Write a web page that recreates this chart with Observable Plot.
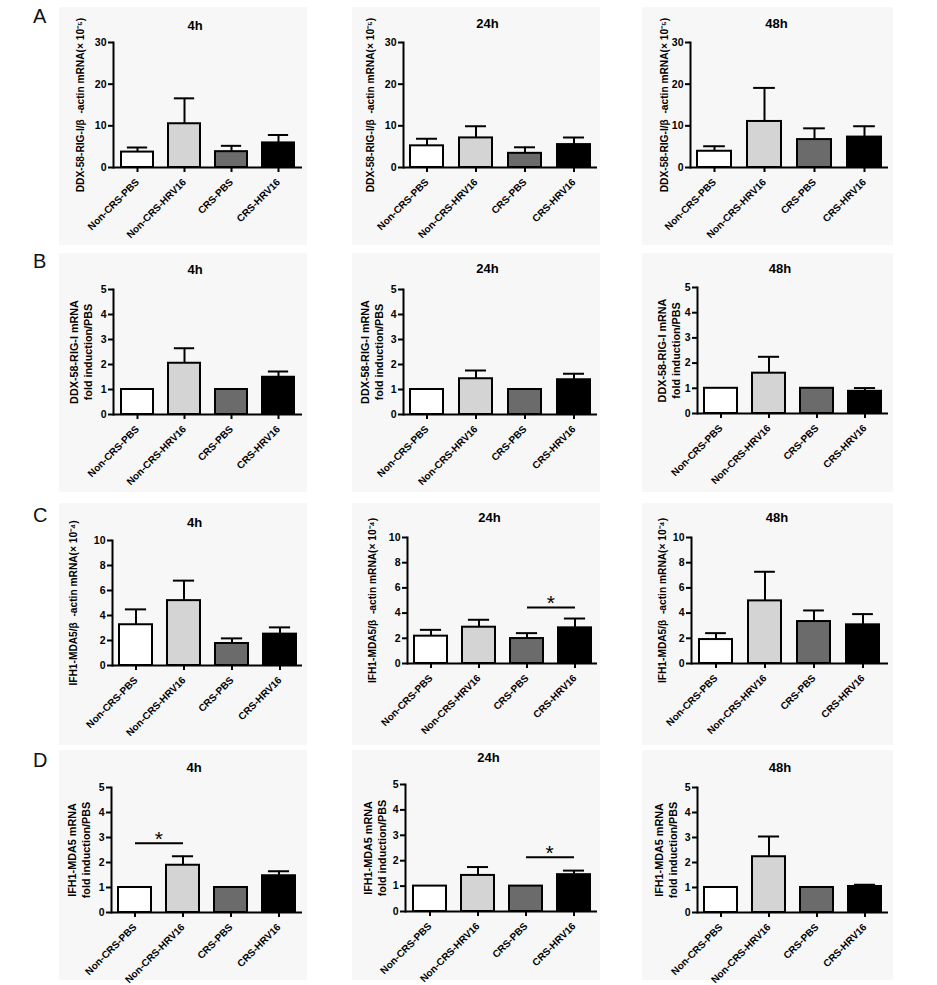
<!DOCTYPE html>
<html>
<head>
<meta charset="utf-8">
<script src="https://cdn.jsdelivr.net/npm/d3@7"></script>
<script src="https://cdn.jsdelivr.net/npm/@observablehq/plot@0.6"></script>
<style>
  body { margin: 0; background: #fff; }
  #root { position: relative; width: 937px; height: 985px; font-family: "Liberation Sans", Arial, sans-serif; background: #fff; }
  .panel { position: absolute; }
  .letter { position: absolute; font-size: 20px; line-height: 20px; color: #111; }
</style>
</head>
<body>
<div id="root"></div>
<script>
// ---------- data ----------
const groups = ["Non-CRS-PBS", "Non-CRS-HRV16", "CRS-PBS", "CRS-HRV16"];
const times = ["4h", "24h", "48h"];
const barColors = ["#ffffff", "#d4d4d4", "#6b6b6b", "#000000"];

// A: DDX-58-RIG-I/β-actin mRNA (×10^-5) — mean and mean+SEM per time point
const A_mean = [[3.7, 10.5, 3.8, 5.9], [5.2, 7.1, 3.4, 5.5], [3.9, 11.05, 6.7, 7.3]];
const A_hi   = [[4.8, 16.6, 5.2, 7.8], [6.9, 9.9, 4.85, 7.2], [5.1, 19.1, 9.4, 9.9]];
// B: DDX-58-RIG-I fold induction/PBS
const B_mean = [[1, 2.05, 1, 1.49], [1, 1.43, 1, 1.39], [1, 1.6, 1, 0.88]];
const B_hi   = [[null, 2.65, null, 1.72], [null, 1.76, null, 1.63], [null, 2.25, null, 1.01]];
// C: IFH1-MDA5/β-actin mRNA (×10^-4)
const C_mean = [[3.26, 5.19, 1.76, 2.51], [2.17, 2.88, 1.98, 2.83], [1.9, 4.97, 3.33, 3.07]];
const C_hi   = [[4.49, 6.79, 2.17, 3.05], [2.67, 3.47, 2.41, 3.57], [2.41, 7.28, 4.21, 3.92]];
// D: IFH1-MDA5 fold induction/PBS
const D_mean = [[1, 1.89, 1, 1.47], [1, 1.42, 1, 1.45], [1, 2.23, 1, 1.04]];
const D_hi   = [[null, 2.25, null, 1.65], [null, 1.75, null, 1.61], [null, 3.04, null, 1.11]];

const A_ticks = [0, 10, 20, 30];
const B_ticks = [0, 1, 2, 3, 4, 5];
const C_ticks = [0, 2, 4, 6, 8, 10];
const D_ticks = [0, 1, 2, 3, 4, 5];

const yLabelA = "DDX-58-RIG-I/β  -actin mRNA(× 10⁻⁵)";
const yLabelB = "DDX-58-RIG-I mRNA\nfold induction/PBS";
const yLabelC = "IFH1-MDA5/β  -actin mRNA(× 10⁻⁴)";
const yLabelD = "IFH1-MDA5 mRNA\nfold induction/PBS";

// significance brackets
const sigRow  = ["C", "D", "D"];
const sigTime = [1, 0, 1];
const sigFrom = ["CRS-PBS", "Non-CRS-PBS", "CRS-PBS"];
const sigTo   = ["CRS-HRV16", "Non-CRS-HRV16", "CRS-HRV16"];
const sigY    = [4.45, 2.77, 2.14];

// ---------- layout ----------
const colBg = [[59, 307], [352, 600], [642, 893]];
const axisRight = [302, 597, 888];
const rows = {
  A: {mean: A_mean, hi: A_hi, ticks: A_ticks, label: yLabelA, labelSize: 10.2, bg: [7, 245], top: [42, 42, 42], bottom: [167, 167, 167], axisL: [113, 403, 690], titleY: [25, 23, 23], labelX: [79, 369, 663], letterY: 6},
  B: {mean: B_mean, hi: B_hi, ticks: B_ticks, label: yLabelB, labelSize: 10.8, bg: [253, 492], top: [289, 289, 287], bottom: [414, 414, 413], axisL: [113, 403, 697], titleY: [269, 268, 268], labelX: [80, 371, 668], letterY: 251},
  C: {mean: C_mean, hi: C_hi, ticks: C_ticks, label: yLabelC, labelSize: 10.2, bg: [503, 745], top: [540, 537, 537], bottom: [665, 663, 663], axisL: [112, 407, 691], titleY: [522, 517, 517], labelX: [72, 371, 661], letterY: 505},
  D: {mean: D_mean, hi: D_hi, ticks: D_ticks, label: yLabelD, labelSize: 10.8, bg: [750, 980], top: [787, 784, 787], bottom: [912, 911, 912], axisL: [111, 405, 697], titleY: [767, 757, 767], labelX: [78, 374, 665], letterY: 750}
};

const root = document.getElementById("root");
const padIn = 0.32, padOut = 0.13;

for (const [rk, r] of Object.entries(rows)) {
  const letter = document.createElement("div");
  letter.className = "letter";
  letter.textContent = rk;
  letter.style.left = "33px";
  letter.style.top = r.letterY + "px";
  root.appendChild(letter);

  times.forEach((t, ti) => {
    const [bgL, bgR] = colBg[ti];
    const [bgT, bgB] = r.bg;
    const axisL = r.axisL[ti], axisR = axisRight[ti];
    const top = r.top[ti], bottom = r.bottom[ti];
    const data = groups.map((g, i) => ({group: g, mean: r.mean[ti][i], hi: r.hi[ti][i]}));
    const errs = data.filter(d => d.hi != null);
    const plotW = axisR - axisL;
    const step = plotW / (groups.length - padIn + 2 * padOut);
    const bw = step * (1 - padIn);
    const capInset = bw * 0.18;
    const sig = [];
    sigRow.forEach((s, k) => { if (s === rk && sigTime[k] === ti) sig.push({from: sigFrom[k], to: sigTo[k], y: sigY[k]}); });

    const marks = [
      Plot.barY(data, {x: "group", y: "mean", fill: "group", stroke: "#000", strokeWidth: 2}),
      Plot.ruleX(errs, {x: "group", y1: "mean", y2: "hi", stroke: "#000", strokeWidth: 2}),
      Plot.tickY(errs, {x: "group", y: "hi", stroke: "#000", strokeWidth: 2, insetLeft: capInset, insetRight: capInset}),
      Plot.ruleY([0], {stroke: "#000", strokeWidth: 2}),
      Plot.frame({anchor: "left", stroke: "#000", strokeWidth: 2}),
      Plot.axisY({ticks: r.ticks, tickSize: 5, tickPadding: 2, strokeWidth: 2, label: null, fontSize: 10.5, fontWeight: "bold", tickFormat: d => String(d)}),
      Plot.axisX({tickSize: 5, tickPadding: 8, tickRotate: -45, strokeWidth: 2, label: null, fontSize: 10, fontWeight: "bold"}),
      Plot.text([t], {frameAnchor: "top", lineAnchor: "middle", dy: r.titleY[ti] - top, dx: -13, fontSize: 13, fontWeight: "bold"}),
      Plot.text([r.label], {frameAnchor: "left", rotate: -90, lineAnchor: "middle", textAnchor: "middle", dx: r.labelX[ti] - axisL, fontSize: r.labelSize, fontWeight: "bold", lineHeight: 1.3})
    ];
    if (sig.length) {
      marks.push(Plot.link(sig, {x1: "from", x2: "to", y1: "y", y2: "y", stroke: "#000", strokeWidth: 2}));
      marks.push(Plot.text(sig, {x: "to", y: "y", text: () => "*", dx: -step / 2, dy: -4, fontSize: 21, fontWeight: "normal"}));
    }

    const chart = Plot.plot({
      width: bgR - bgL,
      height: bgB - bgT,
      marginLeft: axisL - bgL,
      marginRight: bgR - axisR,
      marginTop: top - bgT,
      marginBottom: bgB - bottom,
      x: {domain: groups, paddingInner: padIn, paddingOuter: padOut},
      y: {domain: [0, r.ticks[r.ticks.length - 1]]},
      color: {domain: groups, range: barColors},
      style: {background: "#f7f7f7", fontFamily: "'Liberation Sans', Arial, sans-serif", fontSize: "10px", fontWeight: "bold", color: "#000", overflow: "visible"},
      marks
    });
    const wrap = document.createElement("div");
    wrap.className = "panel";
    wrap.style.left = bgL + "px";
    wrap.style.top = bgT + "px";
    wrap.appendChild(chart);
    root.appendChild(wrap);
  });
}
</script>
</body>
</html>
